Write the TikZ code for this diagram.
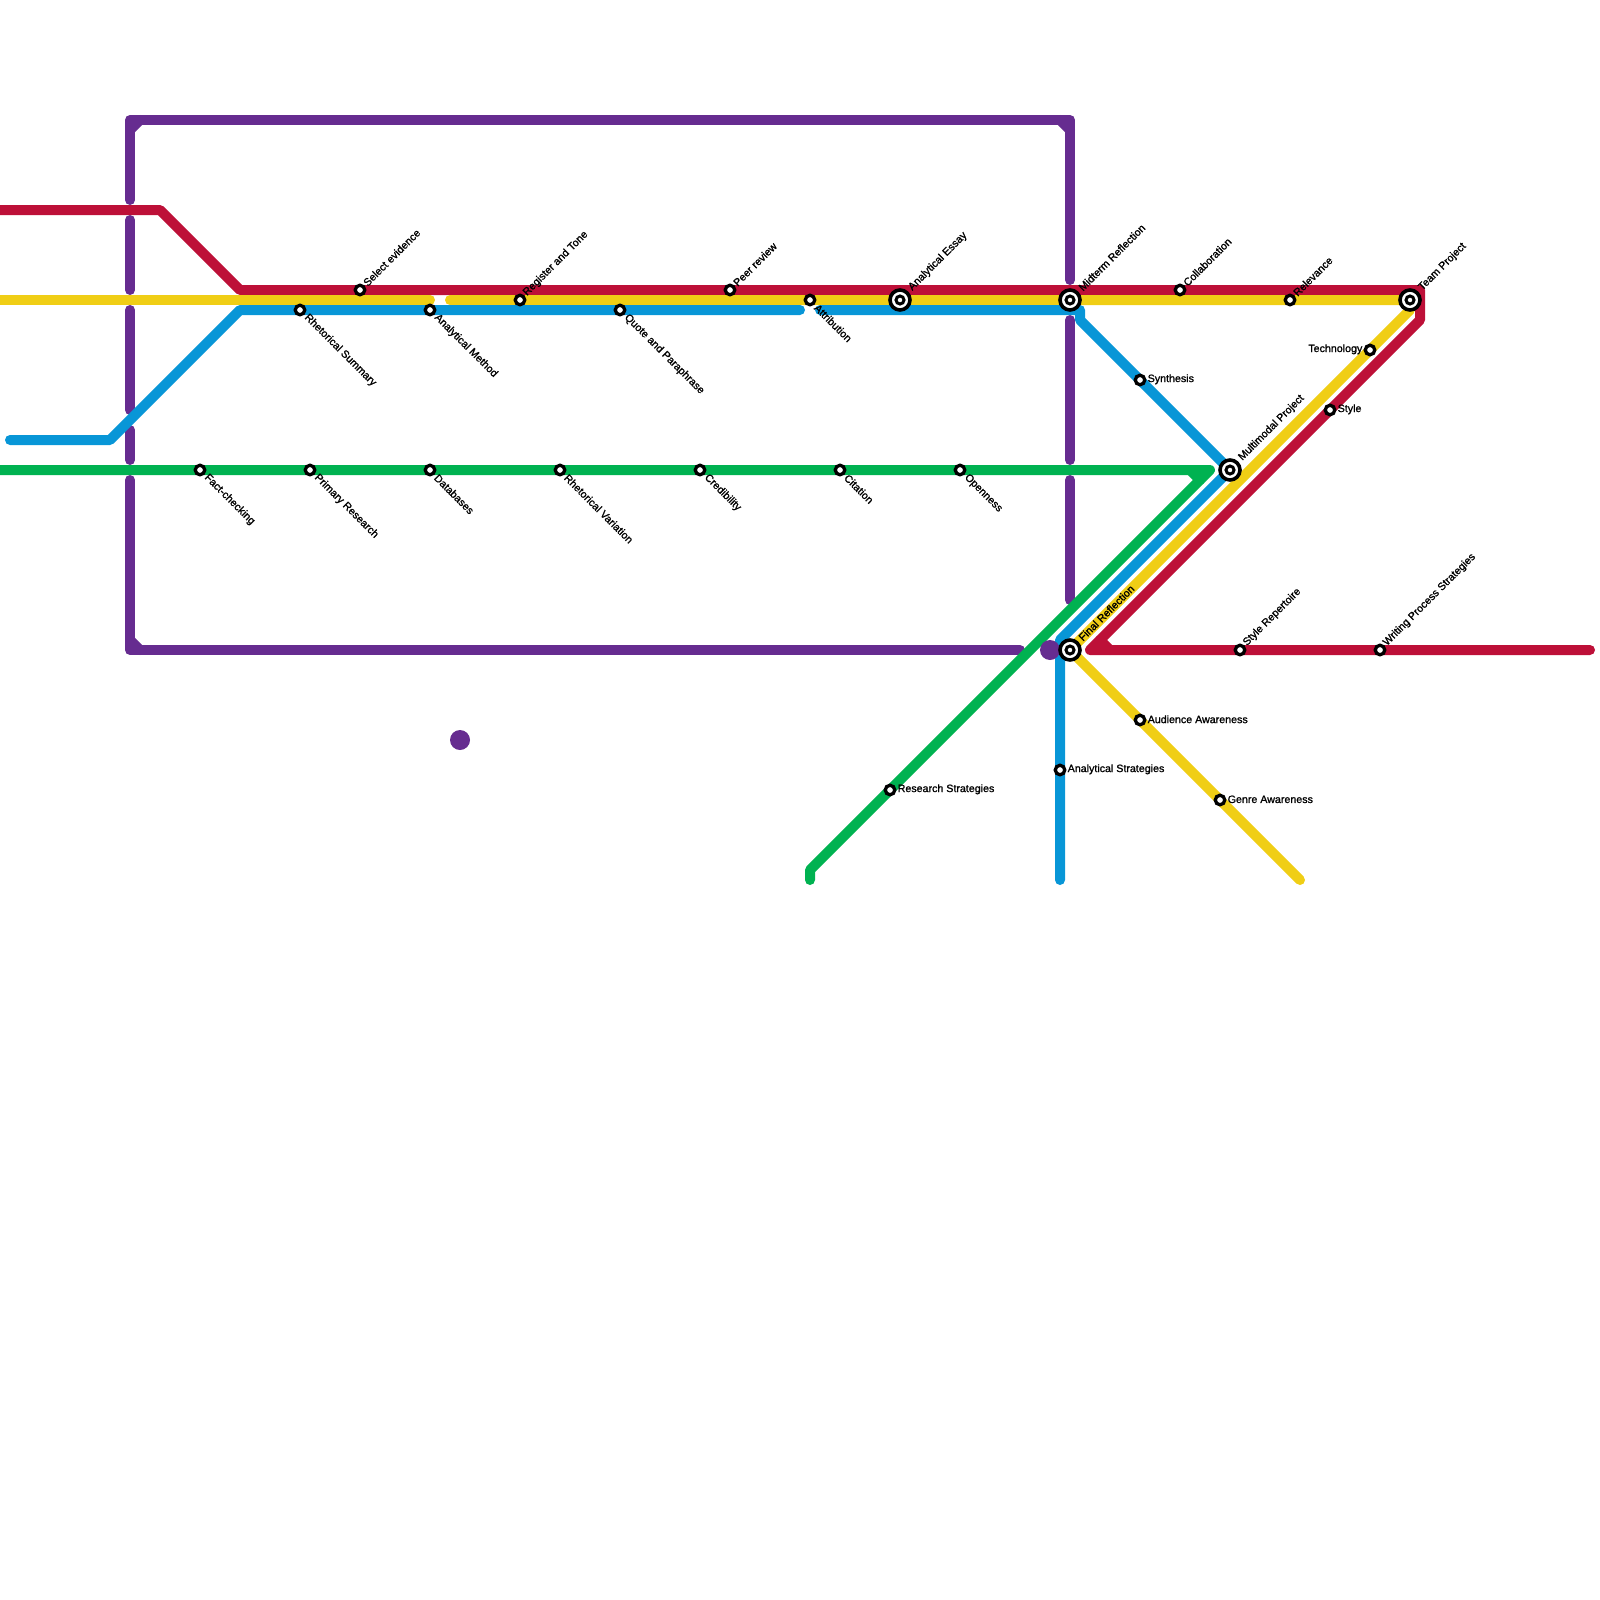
\documentclass[tikz,border=0pt]{standalone}
\usepackage{fontspec}
\setmainfont{Liberation Sans}
\newfontfamily\stationfont[FakeBold=1.2]{Liberation Sans}
\usetikzlibrary{positioning}
\definecolor{redline}{HTML}{BD1038}
\definecolor{yellowline}{HTML}{F0CE15}
\definecolor{blueline}{HTML}{0896D7}
\definecolor{greenline}{HTML}{00B251}
\definecolor{purpleline}{HTML}{662C90}

\begin{document}
\begin{tikzpicture}[
    x=1pt,
    y=-1pt,
    route/.style={
        line width=10pt,
        line cap=round,
        line join=round
    },
    stop/.style={
        draw=black,
        fill=white,
        circle,
        line width=3.3pt,
        minimum size=9.5pt,
        inner sep=0pt
    },
    hub/.style={
        draw=black,
        fill=white,
        circle,
        line width=3.6pt,
        minimum size=20pt,
        inner sep=0pt,
        path picture={
            \draw[black, line width=3pt] (path picture bounding box.center) circle (4pt);
        }
    },
    dot/.style={
        fill=purpleline,
        circle,
        minimum size=20pt,
        inner sep=0pt
    },
    tag/.style={
        font=\stationfont\fontsize{10.67}{12}\selectfont,
        text=black,
        inner sep=0pt
    },
    tagup/.style={tag, rotate=45, anchor=west, xshift=7.5pt, yshift=0.5pt},
    tagdown/.style={tag, rotate=-45, anchor=west, xshift=8.5pt},
    taghub/.style={tag, rotate=45, anchor=west, xshift=15pt, yshift=0.5pt},
    tagright/.style={tag, anchor=west, xshift=7.5pt, yshift=0.7pt},
    tagleft/.style={tag, anchor=east, xshift=-7.5pt, yshift=0.7pt}
]

\useasboundingbox (0,0) rectangle (1600,1600);

\coordinate (redin) at (0,210);
\coordinate (redbenda) at (160,210);
\coordinate (redbendb) at (240,290);
\coordinate (redtop) at (1420,290);
\coordinate (redside) at (1420,320);
\coordinate (redfoot) at (1090,650);
\coordinate (redout) at (1590,650);
\coordinate (rednicka) at (1100,640);
\coordinate (rednickb) at (1110,650);

\coordinate (yellowin) at (0,300);
\coordinate (yellowgapa) at (430,300);
\coordinate (yellowgapb) at (450,300);
\coordinate (yellowtop) at (1410,300);
\coordinate (yellowside) at (1410,310);
\coordinate (yellowfoot) at (1070,650);
\coordinate (yellowout) at (1300,880);

\coordinate (bluein) at (10,440);
\coordinate (bluebenda) at (110,440);
\coordinate (bluebendb) at (240,310);
\coordinate (bluegapa) at (800,310);
\coordinate (bluegapb) at (820,310);
\coordinate (bluetop) at (1080,310);
\coordinate (blueside) at (1080,320);
\coordinate (bluetip) at (1230,470);
\coordinate (bluefoot) at (1060,640);
\coordinate (blueout) at (1060,880);

\coordinate (greenin) at (0,470);
\coordinate (greentop) at (1210,470);
\coordinate (greennicka) at (1190,470);
\coordinate (greennickb) at (1200,480);
\coordinate (greenfoot) at (810,870);
\coordinate (greenout) at (810,880);

\coordinate (purpleul) at (130,120);
\coordinate (purpleur) at (1070,120);
\coordinate (purplell) at (130,650);

\draw[route, purpleline] (130,200) -- (purpleul) -- (purpleur) -- (1070,280);
\draw[route, purpleline] (130,130) -- (140,120);
\draw[route, purpleline] (1060,120) -- (1070,130);
\draw[route, purpleline] (130,220) -- (130,290);
\draw[route, purpleline] (130,310) -- (130,410);
\draw[route, purpleline] (130,430) -- (130,460);
\draw[route, purpleline] (130,480) -- (purplell) -- (1020,650);
\draw[route, purpleline] (130,640) -- (140,650);
\draw[route, purpleline] (1070,320) -- (1070,460);
\draw[route, purpleline] (1070,480) -- (1070,600);

\draw[route, redline] (redin) -- (redbenda) -- (redbendb) -- (redtop) -- (redside) -- (redfoot) -- (redout);
\draw[route, redline] (rednicka) -- (rednickb);
\draw[route, yellowline] (yellowin) -- (yellowgapa);
\draw[route, yellowline] (yellowgapb) -- (yellowtop) -- (yellowside) -- (yellowfoot) -- (yellowout);
\draw[route, blueline] (bluein) -- (bluebenda) -- (bluebendb) -- (bluegapa);
\draw[route, blueline] (bluegapb) -- (bluetop) -- (blueside) -- (bluetip) -- (bluefoot) -- (blueout);
\draw[route, greenline] (greenin) -- (greentop) -- (greenfoot) -- (greenout);
\draw[route, greenline] (greennicka) -- (greennickb);

\node[dot] (dotleft) at (460,740) {};
\node[dot] (dotright) at (1050,650) {};

\node[stop] (select) at (360,290) {};
\node[stop] (summary) at (300,310) {};
\node[stop] (method) at (430,310) {};
\node[stop] (register) at (520,300) {};
\node[stop] (quote) at (620,310) {};
\node[stop] (peer) at (730,290) {};
\node[stop] (attribution) at (810,300) {};
\node[hub] (essay) at (900,300) {};
\node[hub] (midterm) at (1070,300) {};
\node[stop] (collab) at (1180,290) {};
\node[stop] (relevance) at (1290,300) {};
\node[hub] (team) at (1410,300) {};
\node[stop] (technology) at (1370,350) {};
\node[stop] (style) at (1330,410) {};
\node[stop] (synthesis) at (1140,380) {};
\node[hub] (multimodal) at (1230,470) {};
\node[stop] (fact) at (200,470) {};
\node[stop] (primary) at (310,470) {};
\node[stop] (databases) at (430,470) {};
\node[stop] (variation) at (560,470) {};
\node[stop] (credibility) at (700,470) {};
\node[stop] (citation) at (840,470) {};
\node[stop] (openness) at (960,470) {};
\node[hub] (final) at (1070,650) {};
\node[stop] (repertoire) at (1240,650) {};
\node[stop] (process) at (1380,650) {};
\node[stop] (audience) at (1140,720) {};
\node[stop] (genre) at (1220,800) {};
\node[stop] (strategies) at (1060,770) {};
\node[stop] (research) at (890,790) {};

\node[tagup] (selecttxt) at (select) {Select evidence};
\node[tagdown] (summarytxt) at (summary) {Rhetorical Summary};
\node[tagdown] (methodtxt) at (method) {Analytical Method};
\node[tagup] (registertxt) at (register) {Register and Tone};
\node[tagdown] (quotetxt) at (quote) {Quote and Paraphrase};
\node[tagup] (peertxt) at (peer) {Peer review};
\node[tagdown] (attributiontxt) at (attribution) {Attribution};
\node[taghub] (essaytxt) at (essay) {Analytical Essay};
\node[taghub] (midtermtxt) at (midterm) {Midterm Reflection};
\node[tagup] (collabtxt) at (collab) {Collaboration};
\node[tagup] (relevancetxt) at (relevance) {Relevance};
\node[taghub] (teamtxt) at (team) {Team Project};
\node[tagleft] (technologytxt) at (technology) {Technology};
\node[tagright] (styletxt) at (style) {Style};
\node[tagright] (synthesistxt) at (synthesis) {Synthesis};
\node[taghub] (multimodaltxt) at (multimodal) {Multimodal Project};
\node[tagdown] (facttxt) at (fact) {Fact-checking};
\node[tagdown] (primarytxt) at (primary) {Primary Research};
\node[tagdown] (databasestxt) at (databases) {Databases};
\node[tagdown] (variationtxt) at (variation) {Rhetorical Variation};
\node[tagdown] (credibilitytxt) at (credibility) {Credibility};
\node[tagdown] (citationtxt) at (citation) {Citation};
\node[tagdown] (opennesstxt) at (openness) {Openness};
\node[taghub] (finaltxt) at (final) {Final Reflection};
\node[tagup] (repertoiretxt) at (repertoire) {Style Repertoire};
\node[tagup] (processtxt) at (process) {Writing Process Strategies};
\node[tagright] (audiencetxt) at (audience) {Audience Awareness};
\node[tagright] (genretxt) at (genre) {Genre Awareness};
\node[tagright] (strategiestxt) at (strategies) {Analytical Strategies};
\node[tagright] (researchtxt) at (research) {Research Strategies};

\end{tikzpicture}
\end{document}
